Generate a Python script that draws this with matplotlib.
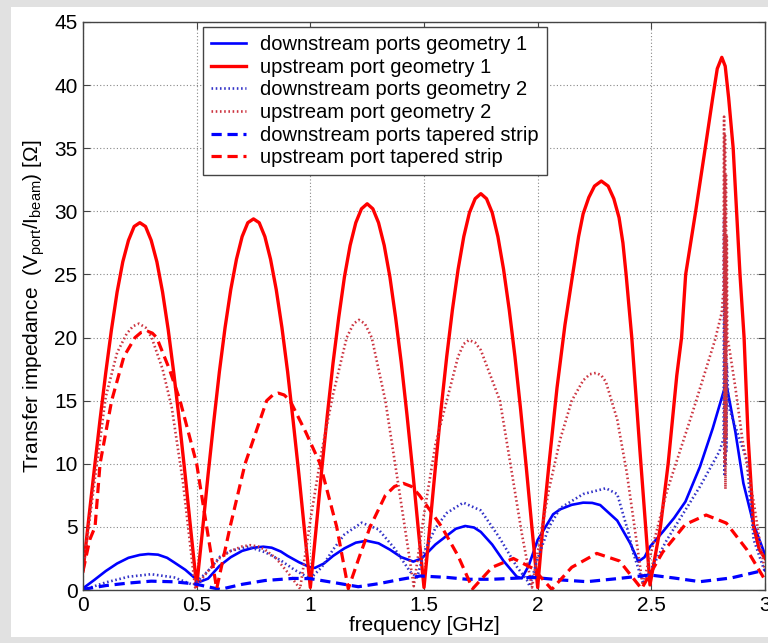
import matplotlib
matplotlib.use('Agg')
import matplotlib.pyplot as plt
from matplotlib.patches import Rectangle
from matplotlib.ticker import MultipleLocator, FormatStrFormatter
import numpy as np

plt.rcParams['font.family'] = ['Liberation Sans', 'DejaVu Sans']
plt.rcParams['mathtext.fontset'] = 'custom'
plt.rcParams['mathtext.rm'] = 'Liberation Sans'
plt.rcParams['mathtext.it'] = 'Liberation Sans:italic'

# upstream port geometry 1 (red solid)
f_up1 = [0, 0.025, 0.05, 0.075, 0.1, 0.125, 0.15, 0.175, 0.2, 0.225, 0.25,
         0.275, 0.3, 0.325, 0.35, 0.375, 0.4, 0.425, 0.45, 0.475, 0.5,
         0.525, 0.55, 0.575, 0.6, 0.625, 0.65, 0.675, 0.7, 0.725, 0.75,
         0.775, 0.8, 0.825, 0.85, 0.875, 0.9, 0.925, 0.95, 0.975, 1.0,
         1.025, 1.05, 1.075, 1.1, 1.125, 1.15, 1.175, 1.2, 1.225, 1.25,
         1.275, 1.3, 1.325, 1.35, 1.375, 1.4, 1.425, 1.45, 1.475, 1.5,
         1.525, 1.55, 1.575, 1.6, 1.625, 1.65, 1.675, 1.7, 1.725, 1.75,
         1.775, 1.8, 1.825, 1.85, 1.875, 1.9, 1.925, 1.95, 1.975, 2.0,
         2.025, 2.05, 2.085, 2.12, 2.154, 2.18, 2.2, 2.225, 2.25, 2.28,
         2.31, 2.335, 2.358, 2.375, 2.389, 2.414, 2.45, 2.475, 2.494,
         2.54, 2.574, 2.612, 2.633, 2.651, 2.695, 2.737, 2.77, 2.79, 2.81,
         2.825, 2.84, 2.86, 2.89, 2.908, 2.926, 2.95, 2.975, 3.0]
z_up1 = [1.5, 5.6, 9.6, 13.5, 17.2, 20.6, 23.6, 26.0, 27.7, 28.8, 29.1,
         28.8, 27.7, 26.0, 23.6, 20.6, 17.1, 13.2, 9.0, 4.6, 0.3,
         4.6, 9.1, 13.3, 17.3, 20.8, 23.8, 26.2, 28.0, 29.1, 29.4,
         29.1, 28.0, 26.2, 23.8, 20.8, 17.3, 13.3, 9.1, 4.6, 0.2,
         4.8, 9.5, 13.9, 18.0, 21.6, 24.8, 27.3, 29.1, 30.2, 30.6,
         30.2, 29.1, 27.3, 24.8, 21.6, 18.0, 13.9, 9.5, 4.8, 0.2,
         4.9, 9.7, 14.3, 18.5, 22.2, 25.4, 28.0, 29.9, 31.0, 31.4,
         31.0, 29.9, 28.0, 25.4, 22.2, 18.5, 14.3, 9.7, 4.9, 0.2,
         5.5, 10.0, 16.0, 21.0, 25.0, 28.0, 29.8, 31.1, 32.0, 32.4,
         32.0, 31.0, 29.5, 27.5, 25.0, 20.0, 11.0, 5.0, 0.4,
         5.0, 10.0, 17.0, 20.0, 25.0, 30.0, 35.0, 39.0, 41.3, 42.2,
         41.5, 39.0, 35.0, 25.0, 20.0, 12.0, 5.0, 3.2, 2.5]

# upstream port geometry 2 (red dotted)
f_up2 = [0, 0.05, 0.1, 0.15, 0.192, 0.22, 0.246, 0.275, 0.302, 0.35, 0.39, 0.44, 0.493,
         0.55, 0.6, 0.65, 0.7, 0.735, 0.77, 0.8, 0.85, 0.9, 0.955,
         1.0, 1.05, 1.1, 1.16, 1.19, 1.214, 1.24, 1.27, 1.33, 1.39, 1.455,
         1.5, 1.55, 1.6, 1.65, 1.675, 1.698, 1.725, 1.75, 1.834, 1.88, 1.93, 1.975,
         2.0, 2.05, 2.1, 2.15, 2.2, 2.23, 2.257, 2.28, 2.3, 2.35, 2.392, 2.43, 2.462,
         2.568, 2.68, 2.78, 2.81,
         2.818, 2.82, 2.822, 2.824, 2.826, 2.828, 2.83, 2.832, 2.834,
         2.84, 2.87, 2.9, 2.95, 2.98, 3.0]
z_up2 = [1.5, 8.5, 15.3, 18.8, 20.3, 20.9, 21.1, 20.8, 20.0, 17.5, 14.5, 8.5, 0.2,
         1.5, 2.5, 3.1, 3.45, 3.55, 3.45, 3.2, 2.5, 1.4, 0.1,
         5.5, 11.0, 15.5, 20.0, 21.1, 21.4, 21.1, 20.0, 15.0, 8.0, 0.3,
         6.0, 11.5, 15.0, 18.5, 19.5, 19.8, 19.6, 19.0, 15.0, 10.0, 4.5, 0.2,
         3.0, 8.0, 12.0, 15.0, 16.6, 17.1, 17.2, 17.0, 16.5, 13.5, 9.3, 4.5, 0.4,
         7.8, 14.0, 19.8, 22.0,
         24.0, 37.5, 10.0, 36.0, 8.0, 33.0, 12.0, 28.0, 20.0,
         19.5, 16.0, 12.0, 7.0, 3.5, 1.5]

# downstream ports geometry 1 (blue solid)
f_dn1 = [0, 0.05, 0.1, 0.15, 0.2, 0.25, 0.287, 0.33, 0.37, 0.4, 0.45, 0.493, 0.515, 0.55,
         0.6, 0.65, 0.7, 0.75, 0.793, 0.83, 0.87, 0.9, 0.95, 0.999, 1.02, 1.06, 1.1, 1.15,
         1.2, 1.248, 1.3, 1.35, 1.4, 1.453, 1.49, 1.55, 1.6, 1.64, 1.681, 1.72, 1.75, 1.8, 1.85,
         1.908, 1.93, 1.96, 2.0, 2.068, 2.1, 2.15, 2.2, 2.24, 2.275, 2.35, 2.407, 2.443, 2.47,
         2.494, 2.55, 2.6, 2.65, 2.714, 2.77, 2.829, 2.87, 2.905, 2.95, 3.0]
z_dn1 = [0.13, 0.8, 1.5, 2.1, 2.55, 2.78, 2.85, 2.8, 2.55, 2.2, 1.6, 0.93, 0.66, 0.9,
         1.9, 2.6, 3.1, 3.35, 3.43, 3.35, 3.05, 2.7, 2.2, 1.8, 1.75, 2.1, 2.7, 3.3,
         3.75, 3.9, 3.7, 3.2, 2.6, 2.25, 2.5, 3.6, 4.3, 4.85, 5.07, 4.95, 4.6, 3.6, 2.3,
         1.06, 0.92, 1.9, 3.96, 6.0, 6.4, 6.75, 6.92, 6.9, 6.73, 5.5, 3.7, 2.25, 2.6,
         3.43, 4.6, 5.7, 7.0, 9.77, 12.8, 16.4, 12.5, 8.45, 5.2, 2.8]

# downstream ports geometry 2 (blue dotted)
f_dn2 = [0, 0.1, 0.2, 0.3, 0.4, 0.485, 0.55, 0.603, 0.65, 0.727, 0.8, 0.867, 0.93,
         1.0, 1.05, 1.1, 1.15, 1.226, 1.3, 1.37, 1.439, 1.47, 1.5, 1.55, 1.6,
         1.673, 1.75, 1.83, 1.908, 1.952, 1.965, 2.0, 2.05, 2.1, 2.2, 2.3, 2.35,
         2.4, 2.421, 2.465, 2.568, 2.714, 2.8,
         2.818, 2.82, 2.822, 2.824, 2.826, 2.828, 2.83, 2.832,
         2.84, 2.92, 2.95, 3.0]
z_dn2 = [0.0, 0.6, 1.05, 1.25, 1.0, 0.4, 1.5, 2.64, 3.1, 3.43, 3.0, 2.38, 1.6,
         0.9, 1.8, 3.2, 4.4, 5.33, 4.8, 3.3, 1.45, 1.0, 3.0, 4.9, 6.1,
         6.92, 6.3, 4.2, 1.85, 0.8, 0.3, 2.5, 5.0, 6.5, 7.6, 8.06, 7.6,
         4.5, 2.9, 0.5, 3.96, 8.2, 11.0,
         12.0, 29.5, 9.0, 27.0, 10.0, 24.0, 11.0, 18.0,
         14.5, 10.3, 4.0, 1.4]

# upstream port tapered strip (red dashed)
f_up3 = [0, 0.03, 0.053, 0.075, 0.126, 0.18, 0.229, 0.255, 0.284, 0.305, 0.324, 0.38, 0.427, 0.5,
         0.544, 0.588, 0.647, 0.713, 0.808, 0.835, 0.859, 0.885, 0.911, 0.98, 1.043, 1.116, 1.167,
         1.215, 1.263, 1.33, 1.37, 1.409, 1.445, 1.48, 1.578, 1.65, 1.714, 1.8, 1.893, 1.98,
         2.062, 2.15, 2.26, 2.36, 2.457, 2.55, 2.65, 2.741, 2.83, 2.92, 3.0]
z_up3 = [1.5, 4.0, 5.0, 10.0, 15.0, 18.5, 20.0, 20.4, 20.5, 20.35, 20.0, 17.5, 15.0, 10.0,
         5.0, 0.1, 5.0, 10.0, 15.0, 15.45, 15.6, 15.45, 15.0, 12.5, 10.0, 5.0, 0.1,
         2.6, 5.0, 7.5, 8.2, 8.45, 8.2, 7.5, 5.0, 2.7, 0.1, 1.8, 2.5, 1.7,
         0.05, 1.8, 2.9, 2.3, 0.1, 3.0, 5.2, 5.94, 5.3, 3.2, 0.8]

# downstream ports tapered strip (blue dashed)
f_dn3 = [0, 0.1, 0.2, 0.3, 0.4, 0.493, 0.55, 0.603, 0.7, 0.8, 0.925, 1.0, 1.1,
         1.211, 1.3, 1.4, 1.483, 1.6, 1.688, 1.8, 1.98, 2.1, 2.216, 2.35, 2.494,
         2.6, 2.714, 2.85, 3.0]
z_dn3 = [0.05, 0.35, 0.55, 0.7, 0.65, 0.48, 0.25, 0.05, 0.45, 0.75, 0.92, 0.9, 0.6,
         0.26, 0.5, 0.85, 1.11, 1.0, 0.85, 0.85, 1.0, 0.8, 0.66, 0.9, 1.19,
         0.95, 0.66, 0.95, 1.58]

fig = plt.figure(figsize=(7.68, 6.43), dpi=100, facecolor='#e1e1e1')
fig.patches.append(Rectangle((11 / 768, 6 / 643), 1 - 11 / 768, 1 - 13 / 643,
                             transform=fig.transFigure, facecolor='white',
                             edgecolor='none', zorder=-10))
ax = fig.add_axes([83 / 768, 53 / 643, 682 / 768, 568 / 643])
ax.set_zorder(5)

red = '#ff0000'
blue = '#0000ff'
dots = (0, (0.6, 1.0))
dash = (0, (3.2, 1.8))
ax.plot(f_dn1, z_dn1, color=blue, lw=1.9, label='downstream ports geometry 1')
ax.plot(f_up1, z_up1, color=red, lw=2.4, label='upstream port geometry 1')
ax.plot(f_dn2, z_dn2, color='#3434c8', lw=1.9, linestyle=dots,
        label='downstream ports geometry 2')
ax.plot(f_up2, z_up2, color='#cc3440', lw=1.9, linestyle=dots,
        label='upstream port geometry 2')
ax.plot(f_dn3, z_dn3, color=blue, lw=2.3, linestyle=dash,
        label='downstream ports tapered strip')
ax.plot(f_up3, z_up3, color=red, lw=2.3, linestyle=dash,
        label='upstream port tapered strip')

ax.set_xlim(0, 3)
ax.set_ylim(0, 45)
ax.xaxis.set_major_locator(MultipleLocator(0.5))
ax.yaxis.set_major_locator(MultipleLocator(5))
ax.xaxis.set_major_formatter(FormatStrFormatter('%g'))
ax.grid(True, color='#888888', linestyle=(0, (1, 2)), lw=0.8)
ax.tick_params(direction='in', top=True, right=True, length=5, labelsize=15,
               color='#444444', pad=4)
for s in ax.spines.values():
    s.set_color('#444444')
    s.set_linewidth(1.0)

ax.set_xlabel('frequency [GHz]', fontsize=15, labelpad=1)
ax.set_ylabel(r'Transfer impedance  (V$_{\mathregular{port}}$/I$_{\mathregular{beam}}$) [$\Omega$]',
              fontsize=15, labelpad=5)

leg = ax.legend(loc='upper left', bbox_to_anchor=(0.176, 0.991), fontsize=14.5,
                fancybox=False, framealpha=1, edgecolor='#444444',
                handlelength=1.75, handletextpad=0.7, labelspacing=0.18,
                borderpad=0.4, borderaxespad=0)
leg.get_frame().set_linewidth(1.0)

fig.savefig('out.png', dpi=100, facecolor=fig.get_facecolor())
